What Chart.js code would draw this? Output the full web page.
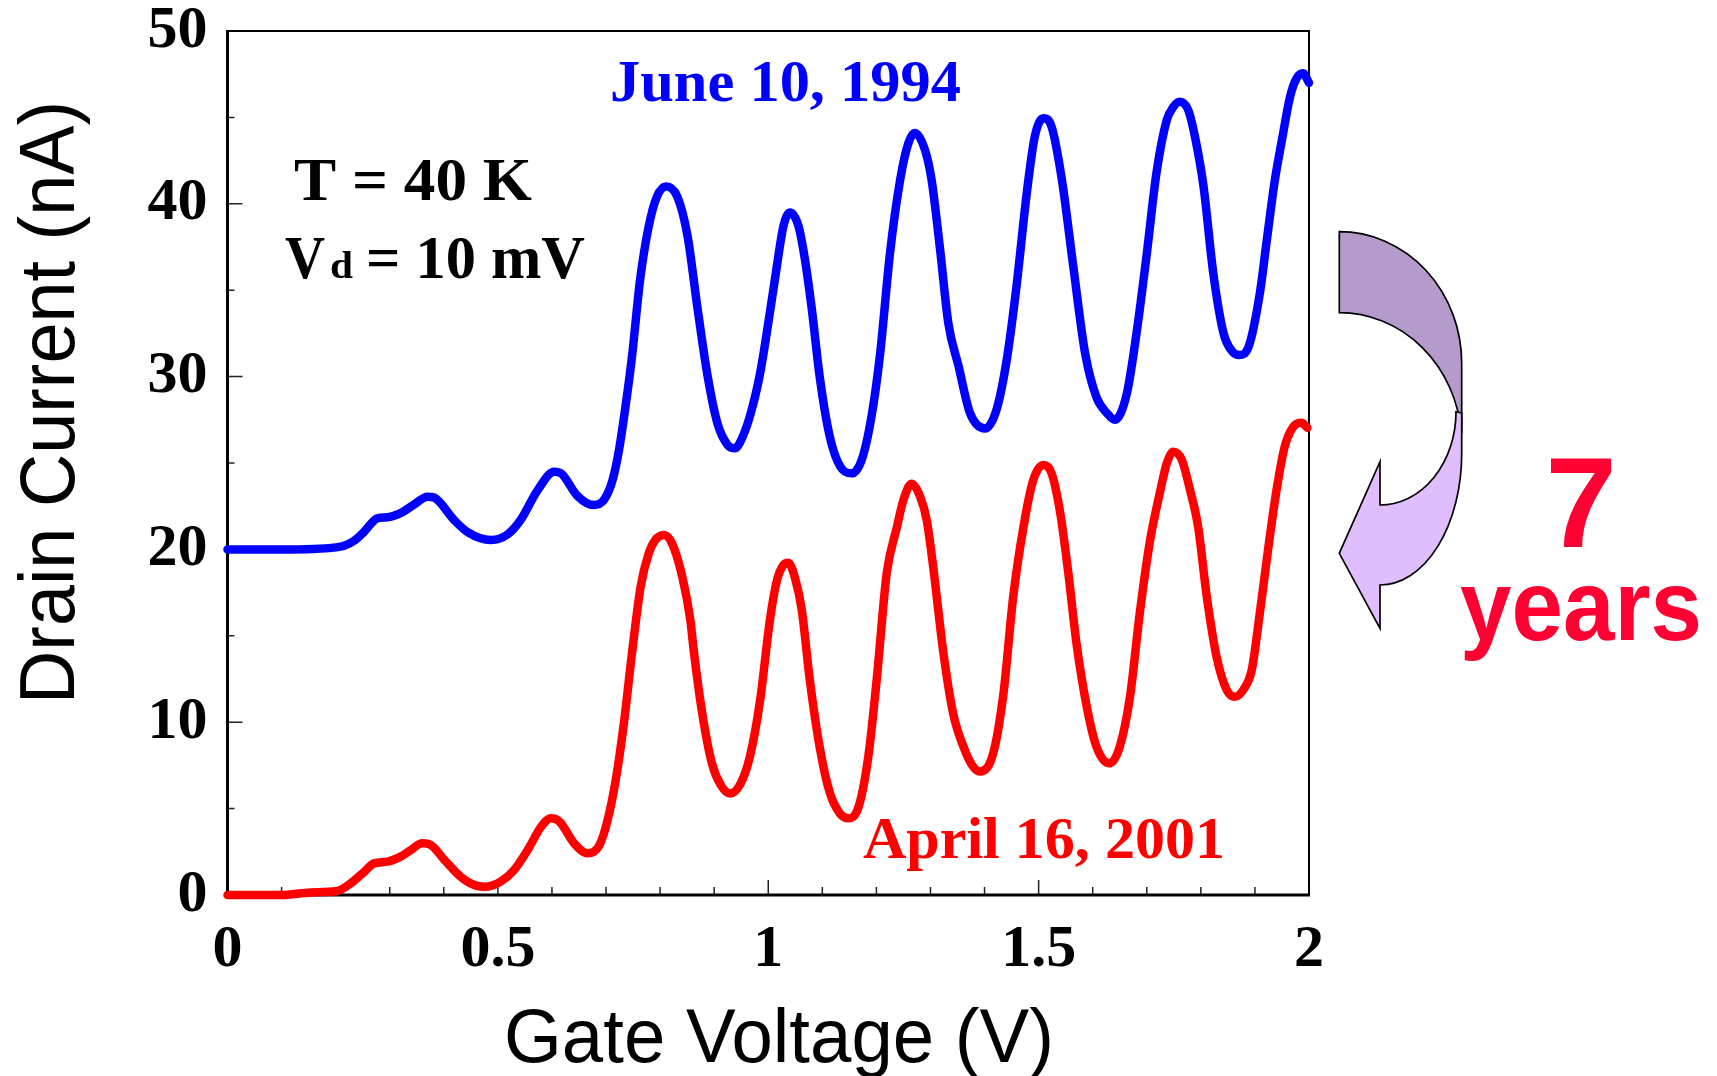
<!DOCTYPE html>
<html>
<head>
<meta charset="utf-8">
<title>Drain Current vs Gate Voltage</title>
<script src="https://cdn.jsdelivr.net/npm/chart.js@4.4.1/dist/chart.umd.min.js"></script>
<style>
  html, body { margin: 0; padding: 0; background: #fff; }
  #wrap { width: 1717px; height: 1076px; position: relative; }
</style>
</head>
<body>
<div id="wrap"><canvas id="chart" width="1717" height="1076"></canvas></div>
<script>
// trace measured June 10, 1994 (gate voltage in V, drain current in nA)
const gateV1994 = [0, 0.117, 0.209, 0.234, 0.252, 0.277, 0.296, 0.320, 0.344, 0.370, 0.382, 0.419, 0.444, 0.487, 0.518, 0.542, 0.573, 0.604, 0.617, 0.647, 0.677, 0.696, 0.712, 0.724, 0.736, 0.748, 0.763, 0.779, 0.794, 0.811, 0.832, 0.851, 0.869, 0.888, 0.906, 0.925, 0.939, 0.948, 0.966, 0.985, 1.003, 1.016, 1.028, 1.040, 1.056, 1.068, 1.080, 1.096, 1.114, 1.133, 1.154, 1.173, 1.191, 1.207, 1.225, 1.244, 1.259, 1.271, 1.290, 1.302, 1.318, 1.333, 1.352, 1.373, 1.401, 1.422, 1.441, 1.459, 1.478, 1.493, 1.509, 1.524, 1.543, 1.564, 1.586, 1.607, 1.626, 1.641, 1.663, 1.681, 1.700, 1.718, 1.737, 1.749, 1.761, 1.777, 1.789, 1.805, 1.823, 1.842, 1.857, 1.871, 1.888, 1.909, 1.922, 1.937, 1.950, 1.965, 1.977, 1.989, 2.000];
const drain1994 = [20.0, 20.0, 20.16, 20.5, 21.0, 21.8, 21.86, 22.1, 22.57, 23.05, 23.0, 21.7, 21.0, 20.54, 20.87, 21.7, 23.4, 24.5, 24.4, 23.1, 22.57, 22.86, 24.0, 25.75, 28.26, 31.15, 35.6, 38.7, 40.4, 41.0, 40.4, 38.1, 34.0, 30.0, 27.3, 26.04, 25.85, 26.2, 27.7, 30.2, 33.7, 36.4, 38.7, 39.5, 38.7, 36.75, 34.05, 29.8, 26.5, 24.8, 24.4, 25.2, 27.7, 31.35, 37.1, 41.4, 43.5, 44.1, 43.1, 41.4, 37.3, 33.1, 30.6, 27.9, 27.0, 28.07, 30.96, 35.2, 40.6, 43.9, 44.95, 44.46, 41.4, 36.4, 31.35, 28.8, 27.9, 27.5, 29.0, 32.5, 37.1, 41.8, 44.85, 45.6, 45.9, 45.4, 43.9, 41.0, 35.98, 32.5, 31.5, 31.25, 31.7, 34.8, 37.9, 41.4, 43.7, 46.2, 47.26, 47.55, 47.0];

// trace measured April 16, 2001
const gateV2001 = [0, 0.099, 0.154, 0.203, 0.228, 0.253, 0.271, 0.296, 0.320, 0.339, 0.360, 0.376, 0.401, 0.431, 0.456, 0.478, 0.505, 0.530, 0.555, 0.580, 0.598, 0.614, 0.641, 0.666, 0.688, 0.703, 0.718, 0.733, 0.748, 0.764, 0.779, 0.791, 0.807, 0.822, 0.841, 0.856, 0.862, 0.878, 0.896, 0.912, 0.929, 0.948, 0.966, 0.985, 1.003, 1.016, 1.028, 1.037, 1.049, 1.062, 1.077, 1.096, 1.114, 1.133, 1.148, 1.167, 1.185, 1.201, 1.219, 1.238, 1.250, 1.265, 1.281, 1.293, 1.305, 1.324, 1.342, 1.361, 1.379, 1.392, 1.416, 1.435, 1.453, 1.472, 1.490, 1.509, 1.524, 1.540, 1.555, 1.570, 1.589, 1.607, 1.631, 1.650, 1.669, 1.687, 1.706, 1.724, 1.737, 1.749, 1.765, 1.780, 1.795, 1.811, 1.829, 1.848, 1.863, 1.882, 1.894, 1.909, 1.925, 1.940, 1.955, 1.971, 1.986, 1.997];
const drain2001 = [0.0, 0.0, 0.15, 0.23, 0.68, 1.35, 1.83, 1.93, 2.22, 2.6, 2.99, 2.9, 2.03, 1.06, 0.58, 0.48, 0.77, 1.45, 2.6, 3.95, 4.44, 4.25, 2.99, 2.41, 2.9, 4.34, 6.66, 9.93, 13.99, 17.84, 19.77, 20.54, 20.83, 20.35, 18.42, 15.9, 14.2, 10.5, 7.6, 6.37, 5.88, 6.4, 8.0, 11.28, 15.9, 18.2, 19.1, 19.23, 18.4, 16.5, 12.4, 8.4, 5.9, 4.7, 4.44, 5.1, 8.0, 12.6, 18.6, 21.3, 22.86, 23.8, 23.05, 21.7, 19.0, 13.99, 10.5, 8.58, 7.42, 7.14, 8.2, 11.67, 17.26, 21.3, 24.0, 24.88, 24.4, 22.1, 18.6, 14.57, 10.9, 8.58, 7.62, 8.58, 11.48, 16.3, 20.5, 23.25, 24.98, 25.65, 25.17, 23.44, 21.3, 17.26, 13.8, 11.86, 11.48, 12.05, 13.0, 16.3, 20.15, 23.44, 25.94, 27.1, 27.33, 27.04];

const xTicks = [0, 0.5, 1, 1.5, 2];
const xTickLabels = ['0', '0.5', '1', '1.5', '2'];
const yTicks = [0, 10, 20, 30, 40, 50];
const yTickLabels = ['0', '10', '20', '30', '40', '50'];

const serifBold = 'bold 60px "Liberation Serif", "Times New Roman", serif';

function toPoints(xs, ys) {
    return xs.map((x, i) => ({ x: x, y: ys[i] }));
}

// draw text squeezed/stretched to a measured width
function fitText(ctx, text, x, y, width, font, color) {
    ctx.save();
    ctx.font = font;
    ctx.fillStyle = color;
    ctx.textAlign = 'left';
    ctx.textBaseline = 'alphabetic';
    const w = ctx.measureText(text).width;
    ctx.translate(x, y);
    ctx.scale(width / w, 1);
    ctx.fillText(text, 0, 0);
    ctx.restore();
}

function drawArrow(ctx) {
    ctx.save();
    ctx.lineWidth = 1.7;
    ctx.strokeStyle = '#000';
    // back half of the curved band
    ctx.beginPath();
    ctx.moveTo(1339.3, 231.7);
    ctx.ellipse(1339.3, 363.3, 122.4, 131.6, 0, -Math.PI / 2, 0);
    ctx.lineTo(1461.7, 433);
    ctx.ellipse(1339.3, 444.3, 122.4, 131.6, 0, -0.086, -Math.PI / 2, true);
    ctx.closePath();
    ctx.fillStyle = '#b49bcb';
    ctx.fill();
    ctx.stroke();
    // front half with the head
    ctx.beginPath();
    ctx.moveTo(1461.7, 413);
    ctx.lineTo(1461.7, 453.3);
    ctx.ellipse(1380, 453.3, 81.7, 131.7, 0, 0, Math.PI / 2);
    ctx.lineTo(1380, 628.3);
    ctx.lineTo(1339.3, 553.3);
    ctx.lineTo(1380, 461.7);
    ctx.lineTo(1380, 505);
    ctx.ellipse(1380, 411.7, 76, 93.3, 0, Math.PI / 2, 0, true);
    ctx.closePath();
    ctx.fillStyle = '#e0befd';
    ctx.fill();
    ctx.stroke();
    ctx.restore();
}

const framePlugin = {
    id: 'frame',
    beforeDatasetsDraw(chart) {
        const ctx = chart.ctx;
        const a = chart.chartArea;
        const xs = chart.scales.x;
        const ys = chart.scales.y;
        ctx.save();
        ctx.strokeStyle = '#222';
        ctx.lineWidth = 1.5;
        // inward tick marks
        ctx.beginPath();
        for (let i = 0; i <= 20; i++) {
            const px = xs.getPixelForValue(i / 10);
            const len = i % 5 === 0 ? 15 : 8;
            ctx.moveTo(px, a.bottom);
            ctx.lineTo(px, a.bottom - len);
        }
        for (let v = 0; v <= 50; v += 5) {
            const py = ys.getPixelForValue(v);
            const len = v % 10 === 0 ? 15 : 7;
            ctx.moveTo(a.left, py);
            ctx.lineTo(a.left + len, py);
        }
        ctx.stroke();
        // box
        ctx.strokeStyle = '#000';
        ctx.lineWidth = 2;
        ctx.beginPath();
        ctx.moveTo(a.left, a.top);
        ctx.lineTo(a.right, a.top);
        ctx.lineTo(a.right, a.bottom);
        ctx.stroke();
        ctx.lineWidth = 3;
        ctx.beginPath();
        ctx.moveTo(a.left, a.top - 1);
        ctx.lineTo(a.left, a.bottom);
        ctx.lineTo(a.right + 1, a.bottom);
        ctx.stroke();
        ctx.restore();
    },
    afterDraw(chart) {
        const ctx = chart.ctx;
        fitText(ctx, 'June 10, 1994', 610, 101, 351, serifBold, '#0000ff');
        fitText(ctx, 'April 16, 2001', 863, 858, 362, serifBold, '#ff0000');
        fitText(ctx, 'T = 40 K', 294, 200, 238, 'bold 62px "Liberation Serif", serif', '#000');
        fitText(ctx, 'V', 285, 278, 40, 'bold 62px "Liberation Serif", serif', '#000');
        fitText(ctx, 'd', 330, 278, 23, 'bold 38px "Liberation Serif", serif', '#000');
        fitText(ctx, '= 10 mV', 366, 278, 219, 'bold 62px "Liberation Serif", serif', '#000');

        // axis titles
        fitText(ctx, 'Gate Voltage (V)', 504, 1062, 550, '76px "Liberation Sans", Arial, sans-serif', '#000');
        ctx.save();
        ctx.translate(74, 704);
        ctx.rotate(-Math.PI / 2);
        fitText(ctx, 'Drain Current (nA)', 0, 0, 603, '77px "Liberation Sans", Arial, sans-serif', '#000');
        ctx.restore();

        drawArrow(ctx);

        ctx.save();
        ctx.fillStyle = '#ff0033';
        ctx.textAlign = 'center';
        ctx.font = 'bold 128px "Liberation Sans", Arial, sans-serif';
        ctx.fillText('7', 1581, 547);
        ctx.restore();
        fitText(ctx, 'years', 1581 - 121, 640, 242, 'bold 100px "Liberation Sans", Arial, sans-serif', '#ff0033');
    }
};

new Chart(document.getElementById('chart'), {
    type: 'line',
    data: {
        datasets: [
            {
                label: 'June 10, 1994',
                data: toPoints(gateV1994, drain1994),
                borderColor: '#0000ff',
                borderWidth: 8.5,
                clip: false
            },
            {
                label: 'April 16, 2001',
                data: toPoints(gateV2001, drain2001),
                borderColor: '#ff0000',
                borderWidth: 8.5,
                clip: false
            }
        ]
    },
    options: {
        responsive: false,
        animation: false,
        layout: { padding: { left: 0, top: 31, right: 408, bottom: 0 } },
        plugins: { legend: { display: false }, tooltip: { enabled: false } },
        elements: {
            point: { radius: 0 },
            line: {
                cubicInterpolationMode: 'monotone',
                borderCapStyle: 'round',
                borderJoinStyle: 'round'
            }
        },
        scales: {
            x: {
                type: 'linear',
                min: 0,
                max: 2,
                grid: { display: false, drawTicks: false },
                border: { display: false },
                afterFit: (s) => { s.height = 181; },
                afterBuildTicks: (s) => { s.ticks = xTicks.map(v => ({ value: v })); },
                ticks: {
                    autoSkip: false,
                    maxRotation: 0,
                    padding: 25,
                    color: '#000',
                    font: { family: '"Liberation Serif", serif', size: 60, weight: 'bold', lineHeight: 1 },
                    callback: (v, i) => xTickLabels[i]
                }
            },
            y: {
                type: 'linear',
                min: 0,
                max: 50,
                grid: { display: false, drawTicks: false },
                border: { display: false },
                afterFit: (s) => {
                    s.width = 227.5;
                    s.paddingTop = 0;
                    s.paddingBottom = 0;
                },
                afterBuildTicks: (s) => { s.ticks = yTicks.map(v => ({ value: v })); },
                ticks: {
                    autoSkip: false,
                    padding: 20,
                    color: '#000',
                    font: { family: '"Liberation Serif", serif', size: 60, weight: 'bold', lineHeight: 1 },
                    callback: (v, i) => yTickLabels[i]
                }
            }
        }
    },
    plugins: [framePlugin]
});
</script>
</body>
</html>
